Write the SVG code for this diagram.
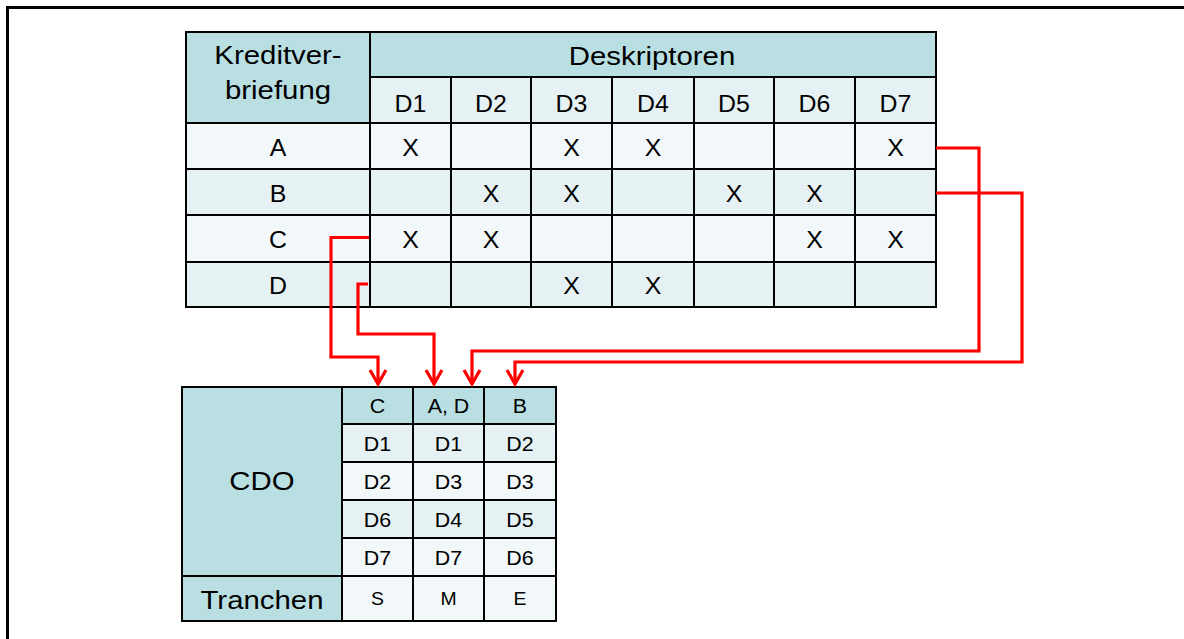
<svg xmlns="http://www.w3.org/2000/svg" width="1184" height="639" viewBox="0 0 1184 639">
<style>
text{font-family:"Liberation Sans",Arial,sans-serif;fill:#000;text-anchor:middle}
.h{font-size:26px}
.c{font-size:23.5px}
.s{font-size:20px}
.t{font-size:18.5px}
.teal{fill:#B9DFE3}
.l1{fill:#E6F1F4}
.l2{fill:#F2F8FA}
.g{stroke:#000;stroke-width:2;fill:none}
.r{stroke:#FF0000;stroke-width:3.2;fill:none;marker-end:url(#arr)}
</style>
<defs>
<marker id="arr" markerUnits="userSpaceOnUse" markerWidth="20" markerHeight="20" viewBox="-16 -10 18 20" refX="0" refY="0" orient="auto" overflow="visible">
<path d="M-14,-8 L0,0 L-14,8" fill="none" stroke="#FF0000" stroke-width="3.2"/>
</marker>
</defs>
<rect width="1184" height="639" fill="#fff"/>
<rect x="7.5" y="7.5" width="1200" height="700" fill="none" stroke="#000" stroke-width="3"/>

<g id="table-top">
<rect class="teal" x="186" y="32" width="750" height="45"/>
<rect class="teal" x="186" y="77" width="184" height="46"/>
<rect class="l1" x="370" y="77" width="566" height="46"/>
<rect class="l2" x="186" y="123" width="750" height="46"/>
<rect class="l1" x="186" y="169" width="750" height="46"/>
<rect class="l2" x="186" y="215" width="750" height="47"/>
<rect class="l1" x="186" y="262" width="750" height="45"/>
<path class="g" d="M186,32 H936 V307 H186 Z M370,32 V307 M370,77 H936 M186,123 H936 M186,169 H936 M186,215 H936 M186,262 H936 M451,77 V307 M531,77 V307 M612,77 V307 M694,77 V307 M774,77 V307 M855,77 V307"/>
<text class="h" transform="translate(278,64) scale(1.13,1)">Kreditver-</text>
<text class="h" transform="translate(278,99) scale(1.13,1)">briefung</text>
<text class="h" transform="translate(652,65) scale(1.13,1)">Deskriptoren</text>
<text class="c" transform="translate(410.5,112) scale(1.06,1)">D1</text>
<text class="c" transform="translate(491,112) scale(1.06,1)">D2</text>
<text class="c" transform="translate(571.5,112) scale(1.06,1)">D3</text>
<text class="c" transform="translate(653,112) scale(1.06,1)">D4</text>
<text class="c" transform="translate(734,112) scale(1.06,1)">D5</text>
<text class="c" transform="translate(814.5,112) scale(1.06,1)">D6</text>
<text class="c" transform="translate(895.5,112) scale(1.06,1)">D7</text>
<text class="c" transform="translate(278,155.5) scale(1.06,1)">A</text>
<text class="c" transform="translate(278,201.5) scale(1.06,1)">B</text>
<text class="c" transform="translate(278,247.5) scale(1.06,1)">C</text>
<text class="c" transform="translate(278,293.5) scale(1.06,1)">D</text>
<text class="c" transform="translate(410.5,155.5) scale(1.06,1)">X</text>
<text class="c" transform="translate(571.5,155.5) scale(1.06,1)">X</text>
<text class="c" transform="translate(653,155.5) scale(1.06,1)">X</text>
<text class="c" transform="translate(895.5,155.5) scale(1.06,1)">X</text>
<text class="c" transform="translate(491,201.5) scale(1.06,1)">X</text>
<text class="c" transform="translate(571.5,201.5) scale(1.06,1)">X</text>
<text class="c" transform="translate(734,201.5) scale(1.06,1)">X</text>
<text class="c" transform="translate(814.5,201.5) scale(1.06,1)">X</text>
<text class="c" transform="translate(410.5,247.5) scale(1.06,1)">X</text>
<text class="c" transform="translate(491,247.5) scale(1.06,1)">X</text>
<text class="c" transform="translate(814.5,247.5) scale(1.06,1)">X</text>
<text class="c" transform="translate(895.5,247.5) scale(1.06,1)">X</text>
<text class="c" transform="translate(571.5,293.5) scale(1.06,1)">X</text>
<text class="c" transform="translate(653,293.5) scale(1.06,1)">X</text>
</g>

<g id="table-bottom">
<rect class="teal" x="182" y="387" width="374" height="37"/>
<rect class="teal" x="182" y="387" width="160" height="234"/>
<rect class="l1" x="342" y="424" width="214" height="38"/>
<rect class="l2" x="342" y="462" width="214" height="38"/>
<rect class="l1" x="342" y="500" width="214" height="38"/>
<rect class="l2" x="342" y="538" width="214" height="38"/>
<rect class="l2" x="342" y="576" width="214" height="45"/>
<path class="g" d="M182,387 H556 V621 H182 Z M342,387 V621 M413,387 V621 M484,387 V621 M342,424 H556 M342,462 H556 M342,500 H556 M342,538 H556 M182,576 H556"/>
<text class="h" transform="translate(262,490) scale(1.13,1)">CDO</text>
<text class="h" transform="translate(262,608.5) scale(1.13,1)">Tranchen</text>
<text class="s" transform="translate(377.5,412.5) scale(1.07,1)">C</text>
<text class="s" transform="translate(448.5,412.5) scale(1.07,1)">A, D</text>
<text class="s" transform="translate(520,412.5) scale(1.07,1)">B</text>
<text class="s" transform="translate(377.5,450.5) scale(1.07,1)">D1</text>
<text class="s" transform="translate(448.5,450.5) scale(1.07,1)">D1</text>
<text class="s" transform="translate(520,450.5) scale(1.07,1)">D2</text>
<text class="s" transform="translate(377.5,488.5) scale(1.07,1)">D2</text>
<text class="s" transform="translate(448.5,488.5) scale(1.07,1)">D3</text>
<text class="s" transform="translate(520,488.5) scale(1.07,1)">D3</text>
<text class="s" transform="translate(377.5,526.5) scale(1.07,1)">D6</text>
<text class="s" transform="translate(448.5,526.5) scale(1.07,1)">D4</text>
<text class="s" transform="translate(520,526.5) scale(1.07,1)">D5</text>
<text class="s" transform="translate(377.5,564.5) scale(1.07,1)">D7</text>
<text class="s" transform="translate(448.5,564.5) scale(1.07,1)">D7</text>
<text class="s" transform="translate(520,564.5) scale(1.07,1)">D6</text>
<text class="t" transform="translate(377.5,605) scale(1.05,1)">S</text>
<text class="t" transform="translate(448.5,605) scale(1.05,1)">M</text>
<text class="t" transform="translate(520,605) scale(1.05,1)">E</text>
</g>

<g id="connectors">
<path class="r" d="M936,193 H1022 V362 H515 V384"/>
<path class="r" d="M936,148 H979 V351 H472 V384"/>
<path class="r" d="M369,237.5 H331 V357 H378 V384"/>
<path class="r" d="M368,284 H358 V334 H434 V384"/>
</g>
</svg>
